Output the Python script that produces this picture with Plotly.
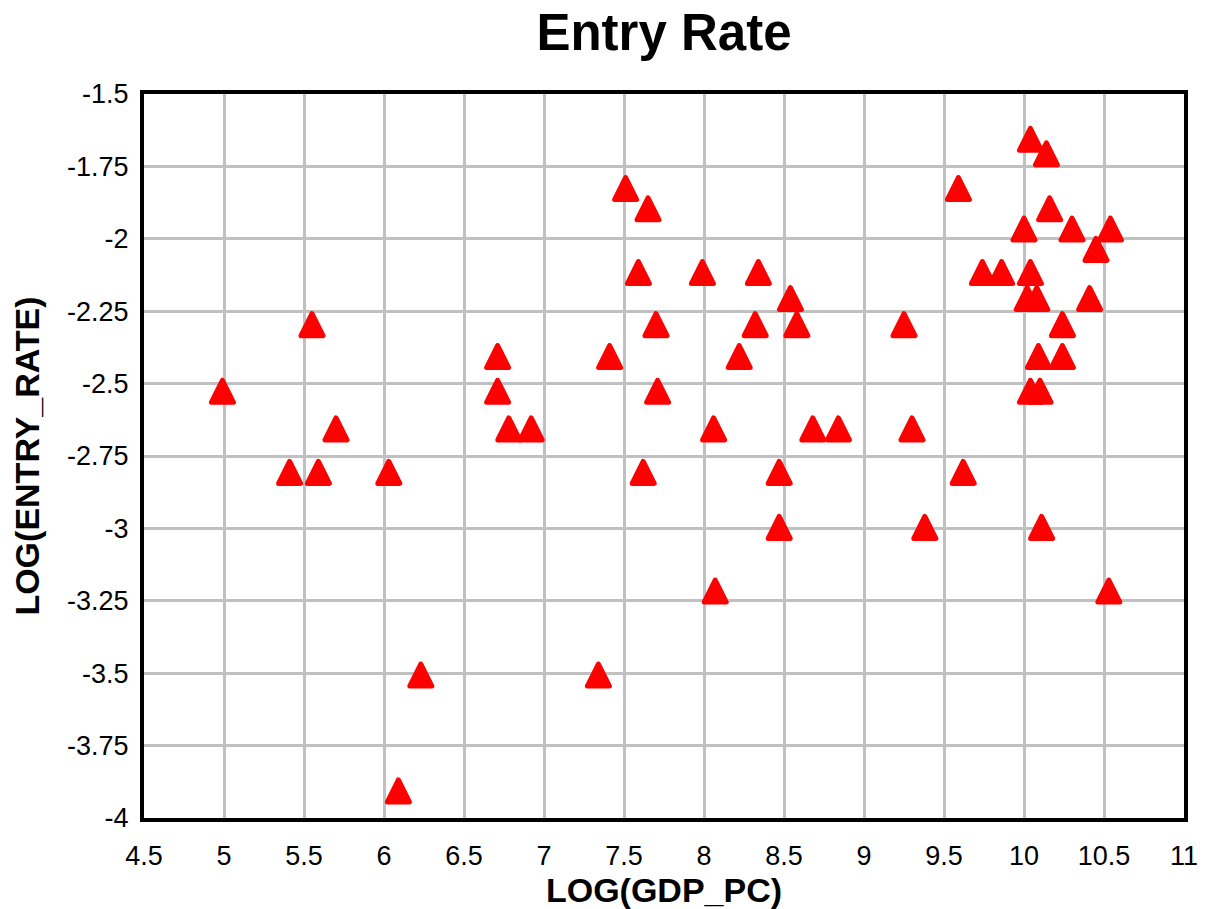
import plotly.graph_objects as go

# LOG(GDP_PC) values
log_gdp_pc = [4.99, 5.41, 5.55, 5.59, 5.70, 6.03, 6.09, 6.23, 6.71, 6.71,
              6.78, 6.92, 7.34, 7.41, 7.51, 7.59, 7.62, 7.65, 7.70, 7.71,
              7.99, 8.06, 8.07, 8.22, 8.32, 8.34, 8.47, 8.47, 8.54, 8.58,
              8.68, 8.84, 9.25, 9.30, 9.38, 9.59, 9.62, 9.74, 9.86, 10.00,
              10.04, 10.14, 10.16, 10.30, 10.54, 10.45, 10.04, 10.02, 10.08, 10.41,
              10.24, 10.09, 10.24, 10.04, 10.10, 10.11, 10.53]

# LOG(ENTRY_RATE) values
log_entry_rate = [-2.53, -2.81, -2.30, -2.81, -2.66, -2.81, -3.91, -3.51, -2.41, -2.53,
                  -2.66, -2.66, -3.51, -2.41, -1.83, -2.12, -2.81, -1.90, -2.30, -2.53,
                  -2.12, -2.66, -3.22, -2.41, -2.30, -2.12, -2.81, -3.00, -2.21, -2.30,
                  -2.66, -2.66, -2.30, -2.66, -3.00, -1.83, -2.81, -2.12, -2.12, -1.97,
                  -1.66, -1.71, -1.90, -1.97, -1.97, -2.04, -2.12, -2.21, -2.21, -2.21,
                  -2.30, -2.41, -2.41, -2.53, -2.53, -3.00, -3.22]

x_tick_vals = [4.5, 5, 5.5, 6, 6.5, 7, 7.5, 8, 8.5, 9, 9.5, 10, 10.5, 11]
x_tick_text = ["4.5", "5", "5.5", "6", "6.5", "7", "7.5", "8", "8.5", "9", "9.5", "10", "10.5", "11"]
y_tick_vals = [-1.5, -1.75, -2, -2.25, -2.5, -2.75, -3, -3.25, -3.5, -3.75, -4]
y_tick_text = ["-1.5", "-1.75", "-2", "-2.25", "-2.5", "-2.75", "-3", "-3.25", "-3.5", "-3.75", "-4"]

FONT = "Liberation Sans, Arial, sans-serif"

fig = go.Figure(
    go.Scatter(
        x=log_gdp_pc,
        y=log_entry_rate,
        mode="markers",
        # upward triangle, roughly centred on the data point
        marker=dict(symbol="arrow-down", angle=180, standoff=12, size=22,
                    color="#ff0000", line=dict(color="#ff0000", width=5)),
        hoverinfo="x+y",
    )
)

fig.update_layout(
    width=1216,
    height=909,
    paper_bgcolor="white",
    plot_bgcolor="white",
    margin=dict(l=144, r=32, t=94, b=91),
    showlegend=False,
    font=dict(family=FONT, color="black"),
    title=dict(text="Entry Rate", x=0.5, xref="paper", y=1 - 32 / 909, yref="container",
               xanchor="center", yanchor="middle",
               font=dict(family=FONT, size=51, color="black", weight="bold")),
)

fig.update_xaxes(
    range=[4.5, 11],
    tickvals=x_tick_vals,
    ticktext=x_tick_text,
    showgrid=True, gridcolor="#c0c0c0", gridwidth=2.5,
    zeroline=False, automargin=False,
    showline=True, linecolor="black", linewidth=4, mirror=True,
    ticks="", ticklabelstandoff=11,
    tickfont=dict(family=FONT, size=27, color="black"),
    title=dict(text="LOG(GDP_PC)", standoff=4,
               font=dict(family=FONT, size=34, color="black", weight="bold")),
)

fig.update_yaxes(
    range=[-4, -1.5],
    tickvals=y_tick_vals,
    ticktext=y_tick_text,
    showgrid=True, gridcolor="#c0c0c0", gridwidth=2.5,
    zeroline=False, automargin=False,
    showline=True, linecolor="black", linewidth=4, mirror=True,
    ticks="", ticklabelstandoff=6,
    tickfont=dict(family=FONT, size=27, color="black"),
    title=dict(text="LOG(ENTRY_RATE)", standoff=18,
               font=dict(family=FONT, size=34, color="black", weight="bold")),
)

post = """
document.body.style.margin = '0';
var s = document.createElement('style');
s.textContent = '.scatterlayer .point { stroke-linejoin: round; }';
document.head.appendChild(s);
"""

fig.write_html("out.html", post_script=post, config={"displayModeBar": False})
